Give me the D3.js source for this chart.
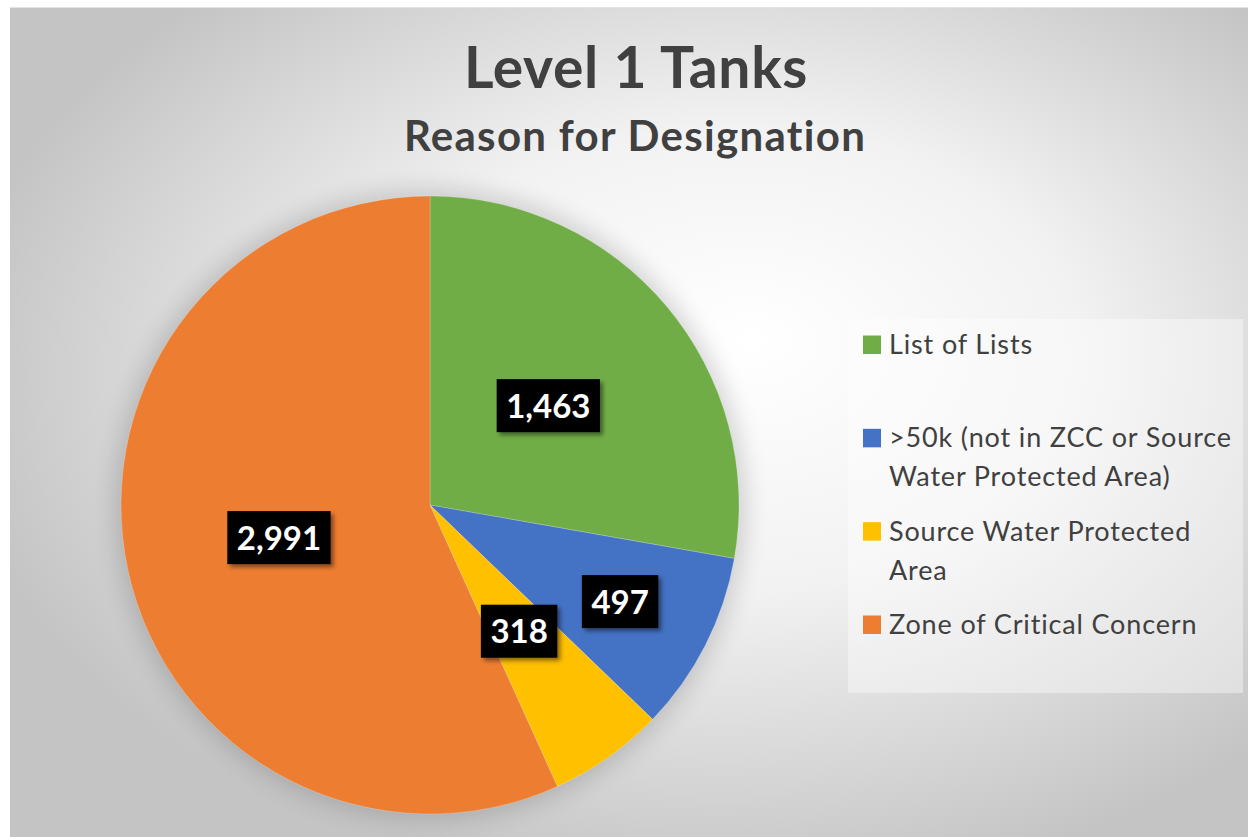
<!DOCTYPE html>
<meta charset="utf-8">
<script src="https://d3js.org/d3.v7.min.js"></script>
<style>
  body { margin: 0; background: #fff; }
  text { font-family: Lato, "Open Sans", sans-serif; }
</style>
<div id="my_dataviz"></div>
<script>

// data
var categories = ["List of Lists",
                  ">50k (not in ZCC or Source Water Protected Area)",
                  "Source Water Protected Area",
                  "Zone of Critical Concern"];
var values = [1463, 497, 318, 2991];
var colors = ["#70AD47", "#4472C4", "#FFC000", "#ED7D31"];
var title = "Level 1 Tanks";
var subtitle = "Reason for Designation";

var W = 1248, H = 837;

var svg = d3.select("#my_dataviz")
  .append("svg")
    .attr("width", W)
    .attr("height", H);

var defs = svg.append("defs");

// background gradient, light in the middle, grey at the corners
var grad = defs.append("radialGradient")
    .attr("id", "bg")
    .attr("cx", 0.57).attr("cy", 0.45).attr("r", 0.62)
    .attr("fx", 0.6).attr("fy", 0.4);
grad.append("stop").attr("offset", 0).attr("stop-color", "#ffffff");
grad.append("stop").attr("offset", 0.45).attr("stop-color", "#f2f2f2");
grad.append("stop").attr("offset", 1).attr("stop-color", "#c4c4c4");

// soft glow round the pie
defs.append("filter").attr("id", "glow")
    .attr("x", "-20%").attr("y", "-20%").attr("width", "140%").attr("height", "140%")
  .append("feGaussianBlur").attr("stdDeviation", 12);

// drop shadow for the value labels
var sh = defs.append("filter").attr("id", "shadow")
    .attr("x", "-20%").attr("y", "-20%").attr("width", "150%").attr("height", "160%");
sh.append("feDropShadow")
    .attr("dx", 3).attr("dy", 3).attr("stdDeviation", 2)
    .attr("flood-color", "#000").attr("flood-opacity", 0.45);

svg.append("rect")
    .attr("x", 10).attr("y", 7)
    .attr("width", W - 10).attr("height", H - 7)
    .attr("fill", "url(#bg)");

svg.append("line")
    .attr("x1", 10).attr("x2", W).attr("y1", 7.5).attr("y2", 7.5)
    .attr("stroke", "#e2e2e2");

// titles
svg.append("text")
    .attr("x", 636).attr("y", 88)
    .attr("text-anchor", "middle")
    .style("font-size", "57px").style("font-weight", "bold")
    .style("letter-spacing", "0.7px")
    .attr("fill", "#404040")
    .text(title);

svg.append("text")
    .attr("x", 635).attr("y", 151)
    .attr("text-anchor", "middle")
    .style("font-size", "42px").style("font-weight", "bold")
    .style("letter-spacing", "1.3px")
    .attr("fill", "#404040")
    .text(subtitle);

// pie
var cx = 430, cy = 505, R = 309;
var data = categories.map(function(c, i) { return {name: c, value: values[i]}; });

var color = d3.scaleOrdinal().domain(categories).range(colors);

var pie = d3.pie().sort(null).value(function(d) { return d.value; });
var arcs = pie(data);
var arc = d3.arc().innerRadius(0).outerRadius(R);

var g = svg.append("g").attr("transform", "translate(" + cx + "," + cy + ")");

g.append("circle")
    .attr("r", R + 6)
    .attr("fill", "#000")
    .attr("opacity", 0.16)
    .attr("filter", "url(#glow)");

g.selectAll("path.slice")
  .data(arcs)
  .enter().append("path")
    .attr("class", "slice")
    .attr("d", arc)
    .attr("fill", function(d) { return color(d.data.name); })
    .attr("stroke", "#ffffff")
    .attr("stroke-opacity", 0.35)
    .attr("stroke-width", 0.6);

// value labels, black boxes
var fmt = d3.format(",");
function labelArc(d) {
  var k = d.index === 1 ? 0.69 : 0.5;   // the >50k label sits further out
  return d3.arc().innerRadius(R * k).outerRadius(R * k).centroid(d);
}

var lab = g.selectAll("g.lab")
  .data(arcs)
  .enter().append("g")
    .attr("class", "lab")
    .attr("transform", function(d) { return "translate(" + labelArc(d) + ")"; });

lab.append("text")
    .attr("text-anchor", "middle")
    .attr("y", 12)
    .style("font-size", "33px").style("font-weight", "bold")
    .attr("fill", "#ffffff")
    .text(function(d) { return fmt(d.data.value); });

lab.each(function() {
  var t = d3.select(this).select("text");
  var w = t.node().getComputedTextLength() + 19;
  d3.select(this).insert("rect", "text")
      .attr("x", -w / 2).attr("y", -26.5)
      .attr("width", w).attr("height", 53)
      .attr("fill", "#000")
      .attr("filter", "url(#shadow)");
});

// legend
svg.append("rect")
    .attr("x", 848).attr("y", 319)
    .attr("width", 395).attr("height", 374)
    .attr("fill", "#ffffff").attr("opacity", 0.4);

var ly = d3.scalePoint().domain(categories).range([354, 634]);
var maxW = 350, lineH = 39;

var leg = svg.selectAll("g.legend")
  .data(categories)
  .enter().append("g")
    .attr("class", "legend")
    .attr("transform", function(d) { return "translate(863," + ly(d) + ")"; });

leg.append("rect")
    .attr("x", 0).attr("y", -18.5)
    .attr("width", 18).attr("height", 18.5)
    .attr("fill", function(d) { return color(d); });

leg.each(function(d) {
  var t = d3.select(this).append("text")
      .attr("x", 26).attr("y", 0)
      .style("font-size", "27px")
      .style("letter-spacing", "0.85px")
      .attr("fill", "#404040");
  // wrap words to the legend width
  var words = d.split(" "), line = [], n = 0;
  var ts = t.append("tspan").attr("x", 26).attr("y", 0);
  words.forEach(function(w) {
    line.push(w);
    ts.text(line.join(" "));
    if (ts.node().getComputedTextLength() > maxW && line.length > 1) {
      line.pop();
      ts.text(line.join(" "));
      line = [w];
      n++;
      ts = t.append("tspan").attr("x", 26).attr("y", n * lineH).text(w);
    }
  });
});

</script>
